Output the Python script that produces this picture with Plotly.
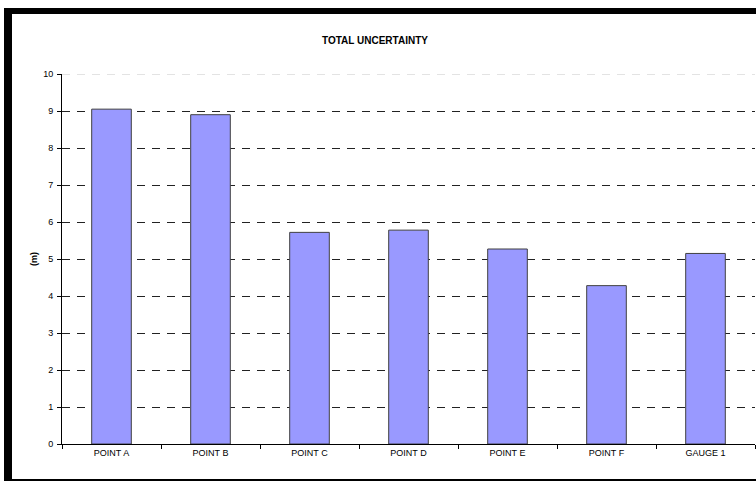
import plotly.graph_objects as go

# Data
categories = ["POINT A", "POINT B", "POINT C", "POINT D", "POINT E", "POINT F", "GAUGE 1"]
uncertainty_m = [9.05, 8.9, 5.72, 5.78, 5.27, 4.28, 5.15]
y_ticks = [0, 1, 2, 3, 4, 5, 6, 7, 8, 9, 10]

W, H = 756, 481
ML, MR, MT, MB = 62, 1, 74, 37
PW, PH = W - ML - MR, H - MT - MB


def px_x(p):
    return (p - ML) / PW


def px_y(p):
    return 1 - (p - MT) / PH


fig = go.Figure(
    go.Bar(
        x=categories,
        y=uncertainty_m,
        width=0.4,
        marker=dict(color="#9999FF", line=dict(color="#404040", width=1)),
        hoverinfo="x+y",
    )
)

font = "Liberation Sans, Arial, sans-serif"

fig.update_layout(
    width=W,
    height=H,
    margin=dict(l=ML, r=MR, t=MT, b=MB),
    paper_bgcolor="white",
    plot_bgcolor="white",
    showlegend=False,
    font=dict(family=font, size=9, color="black"),
    title=dict(
        text="<b>TOTAL UNCERTAINTY</b>",
        x=375 / W,
        xanchor="center",
        y=1 - 40 / H,
        yanchor="middle",
        font=dict(family=font, size=10, color="black"),
    ),
    xaxis=dict(
        showline=True,
        linecolor="black",
        linewidth=1,
        ticks="outside",
        ticklen=4,
        tickcolor="black",
        tickson="boundaries",
        showgrid=False,
        tickfont=dict(size=9),
    ),
    yaxis=dict(
        range=[0, 10],
        tickvals=y_ticks,
        showline=True,
        linecolor="black",
        linewidth=1,
        ticks="outside",
        ticklen=4,
        tickcolor="black",
        ticklabelstandoff=2,
        showgrid=True,
        gridcolor="#222222",
        gridwidth=1,
        griddash="8px,7px",
        zeroline=False,
        tickfont=dict(size=9),
        title=dict(text="<b>(m)</b>", font=dict(size=9), standoff=4),
    ),
)

# Top gridline, which sits on the edge of the plot area
fig.add_shape(
    type="line", xref="paper", yref="y",
    x0=0, x1=1, y0=max(y_ticks), y1=max(y_ticks),
    line=dict(color="#c8c8c8", width=1, dash="8px,7px"), layer="below",
)

# Chart frame: heavy black border on the left and top, thin rule at the bottom
frame = [
    dict(x0=px_x(4), x1=px_x(12), y0=px_y(481), y1=px_y(8)),
    dict(x0=px_x(4), x1=px_x(760), y0=px_y(14), y1=px_y(8)),
    dict(x0=px_x(12), x1=px_x(760), y0=px_y(481), y1=px_y(479)),
]
for f in frame:
    fig.add_shape(
        type="rect", xref="paper", yref="paper",
        x0=f["x0"], x1=f["x1"], y0=f["y0"], y1=f["y1"],
        fillcolor="black", line=dict(width=0), layer="above",
    )

fig.write_html("out.html")
